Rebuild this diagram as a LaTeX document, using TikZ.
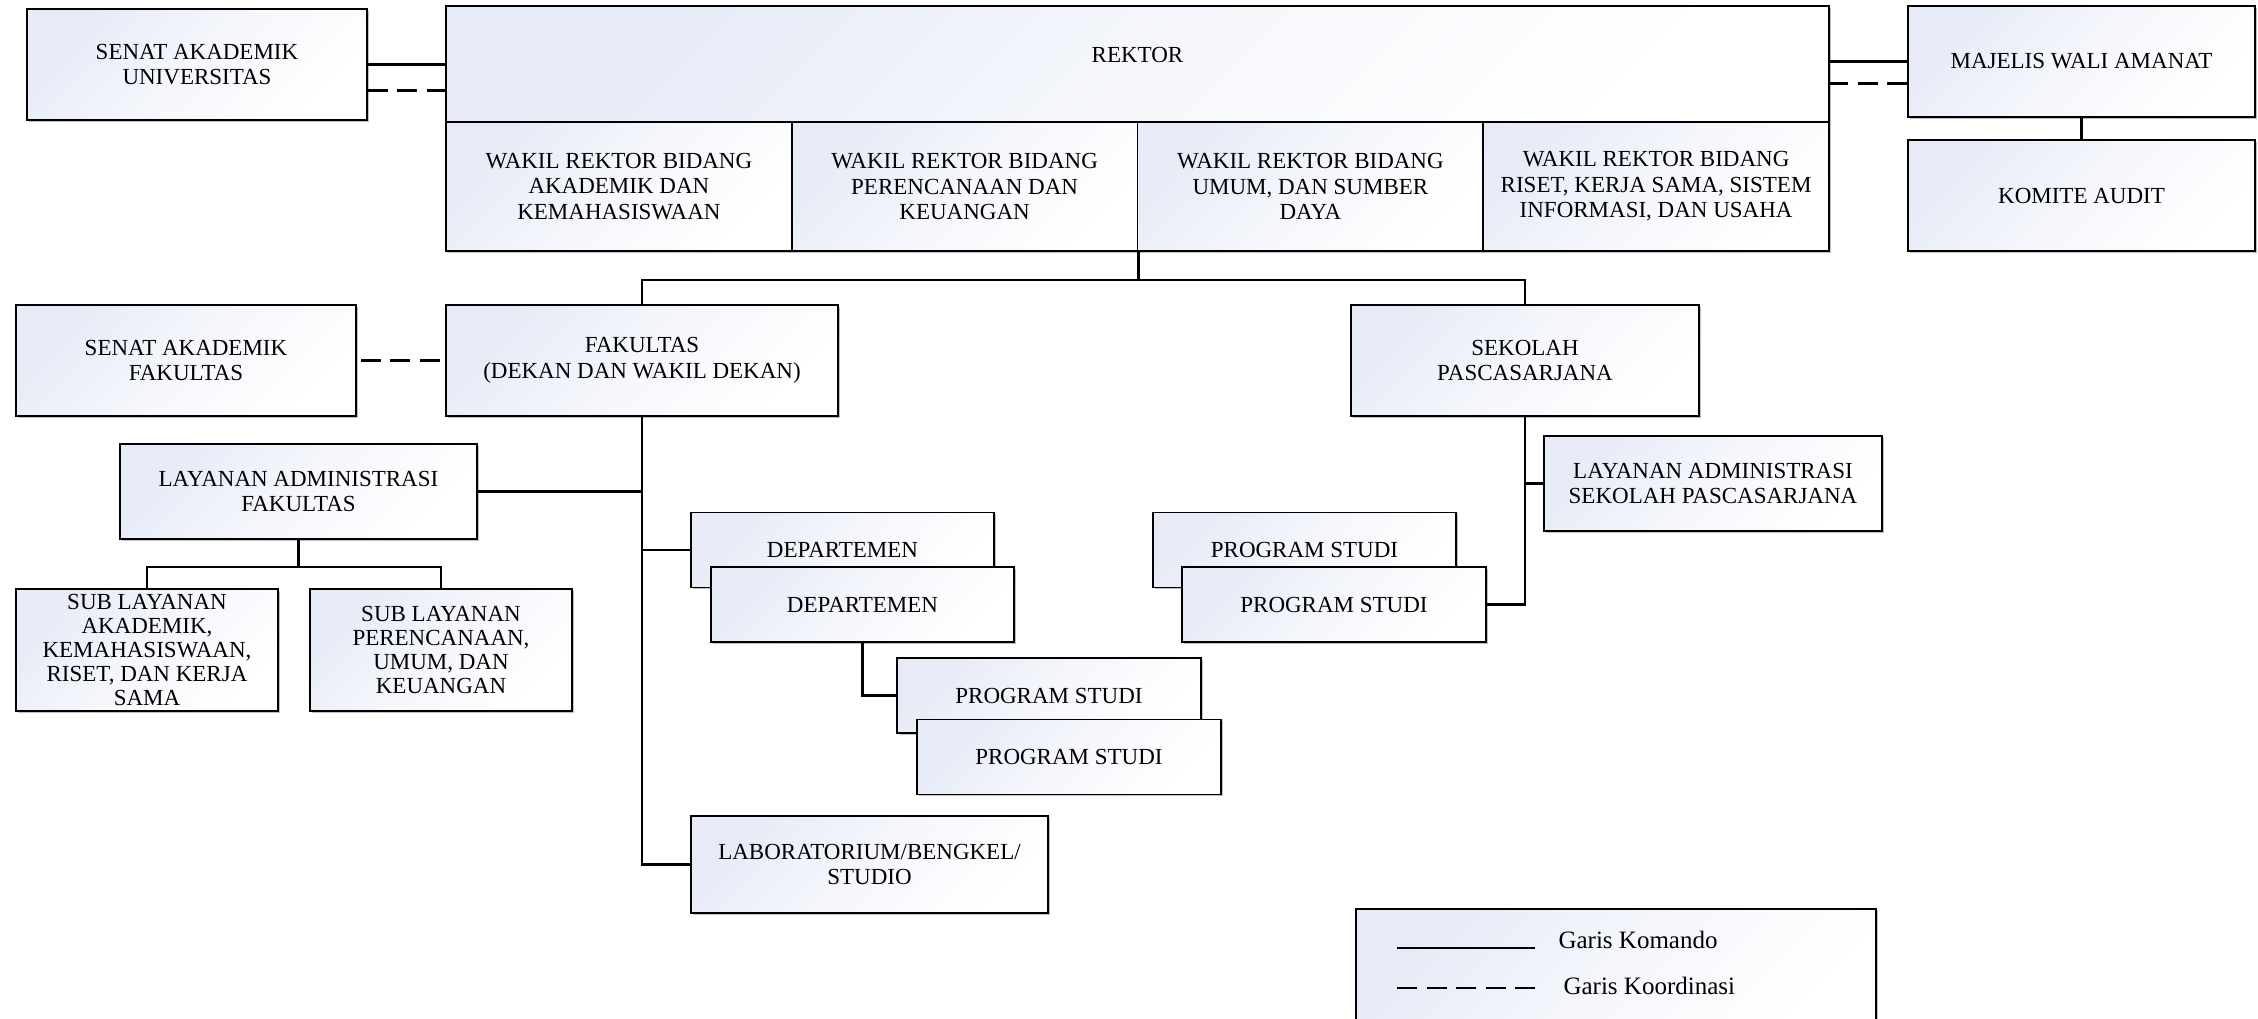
\documentclass[tikz,border=0pt]{standalone}
\usepackage{fontspec}
\setmainfont{Liberation Serif}
\usetikzlibrary{positioning,calc,shadows}

\definecolor{boxblue}{RGB}{230,235,247}

\tikzset{
  unit/.style={draw=black, line width=1.8pt, align=center, inner sep=2pt,
    top color=boxblue, bottom color=white, middle color=boxblue!40!white, shading angle=45,
    font=\fontsize{23}{25.5}\selectfont,
    drop shadow={shadow xshift=1.5pt, shadow yshift=-1.5pt, opacity=.25, fill=black}},
  subunit/.style={unit, font=\fontsize{23}{24}\selectfont},
  cmd/.style={line width=2.4pt},
  crd/.style={line width=2.4pt, dash pattern=on 20pt off 9.5pt},
}

\begin{document}
\begin{tikzpicture}[x=1pt,y=-1pt]
\useasboundingbox (0,0) rectangle (2258,1018);

% pimpinan universitas
\node[unit, minimum width=340pt, minimum height=111pt] (sau) at (197,64.5) {SENAT AKADEMIK\\UNIVERSITAS};
\node[unit, minimum width=1383pt, minimum height=116pt, text depth=18pt] (rektor) at (1137.5,64) {REKTOR};
\node[unit, minimum width=346pt, minimum height=129pt] (wr1) at (618.9,186.5) {WAKIL REKTOR BIDANG\\AKADEMIK DAN\\KEMAHASISWAAN};
\node[unit, minimum width=346pt, minimum height=129pt] (wr2) at (964.6,186.5) {WAKIL REKTOR BIDANG\\PERENCANAAN DAN\\KEUANGAN};
\node[unit, minimum width=346pt, minimum height=129pt] (wr3) at (1310.4,186.5) {WAKIL REKTOR BIDANG\\UMUM, DAN SUMBER\\DAYA};
\node[unit, minimum width=346pt, minimum height=129pt] (wr4) at (1656.1,186.5) {WAKIL REKTOR BIDANG\\RISET, KERJA SAMA, SISTEM\\INFORMASI, DAN USAHA};
\node[unit, minimum width=347pt, minimum height=111pt] (mwa) at (2081.5,61.5) {MAJELIS WALI AMANAT};
\node[unit, minimum width=347pt, minimum height=111pt] (komite) at (2081.5,195.5) {KOMITE AUDIT};

% fakultas
\node[unit, minimum width=340pt, minimum height=111pt] (saf) at (186,360.5) {SENAT AKADEMIK\\FAKULTAS};
\node[unit, minimum width=392pt, minimum height=111pt] (fak) at (642,360.5) {FAKULTAS\\(DEKAN DAN WAKIL DEKAN)};
\node[unit, minimum width=357pt, minimum height=95pt] (laf) at (298.5,491.5) {LAYANAN ADMINISTRASI\\FAKULTAS};
\node[subunit, minimum width=262pt, minimum height=122pt] (sub1) at (147,650) {SUB LAYANAN\\AKADEMIK,\\KEMAHASISWAAN,\\RISET, DAN KERJA\\SAMA};
\node[subunit, minimum width=262pt, minimum height=122pt] (sub2) at (441,650) {SUB LAYANAN\\PERENCANAAN,\\UMUM, DAN\\KEUANGAN};
\node[unit, minimum width=303pt, minimum height=75pt] (depb) at (842.5,550) {DEPARTEMEN};
\node[unit, minimum width=303pt, minimum height=75pt] (depf) at (862.5,604.5) {DEPARTEMEN};
\node[unit, minimum width=304pt, minimum height=75pt] (psb) at (1049,695.5) {PROGRAM STUDI};
\node[unit, minimum width=304pt, minimum height=75pt] (psf) at (1069,757) {PROGRAM STUDI};
\node[unit, minimum width=357pt, minimum height=97pt] (lab) at (869.5,864.5) {LABORATORIUM/BENGKEL/\\STUDIO};

% sekolah pascasarjana
\node[unit, minimum width=348pt, minimum height=111pt] (sek) at (1525,360.5) {SEKOLAH\\PASCASARJANA};
\node[unit, minimum width=338pt, minimum height=95pt] (lasp) at (1713,483.5) {LAYANAN ADMINISTRASI\\SEKOLAH PASCASARJANA};
\node[unit, minimum width=303pt, minimum height=75pt] (psgb) at (1304.5,550) {PROGRAM STUDI};
\node[unit, minimum width=304pt, minimum height=75pt] (psgf) at (1334,604.5) {PROGRAM STUDI};

% garis
\draw[cmd] (sau.east) -- (sau.east -| rektor.west);
\draw[crd] ([yshift=-26pt]sau.east) -- ([yshift=-26pt]sau.east -| rektor.west);
\draw[cmd] (mwa.west) -- (mwa.west -| rektor.east);
\draw[crd] ([yshift=-22pt]mwa.west) -- ([yshift=-22pt]mwa.west -| rektor.east);
\draw[cmd] (mwa.south) -- (komite.north);
\draw[cmd] (wr2.south east) -- ++(0,28) coordinate (hub);
\draw[cmd] (fak.north) |- (hub) -| (sek.north);
\draw[crd, shorten <=4pt, shorten >=5pt] (saf.east) -- (fak.west);
\draw[cmd] (fak.south) |- (lab.west);
\draw[cmd] (laf.east) -- (laf.east -| fak.south);
\draw[cmd] (fak.south |- depb.west) -- (depb.west);
\draw[cmd] (laf.south) -- ++(0,27) coordinate (subhub);
\draw[cmd] (sub1.north) |- (subhub) -| (sub2.north);
\draw[cmd] (depf.south) |- (psb.west);
\draw[cmd] (sek.south) |- (psgf.east);
\draw[cmd] (sek.south |- lasp.west) -- (lasp.west);

% keterangan
\node[unit, minimum width=520pt, minimum height=121pt] (legend) at (1616,969.5) {};
\node[anchor=west, font=\fontsize{25}{28}\selectfont] (gk) at (1555,940) {Garis Komando};
\node[anchor=west, font=\fontsize{25}{28}\selectfont] (gko) at (1560,986) {Garis Koordinasi};
\draw[cmd] (1397,948) -- (1535,948);
\draw[crd] (1397,988) -- (1535,988);
\end{tikzpicture}
\end{document}
